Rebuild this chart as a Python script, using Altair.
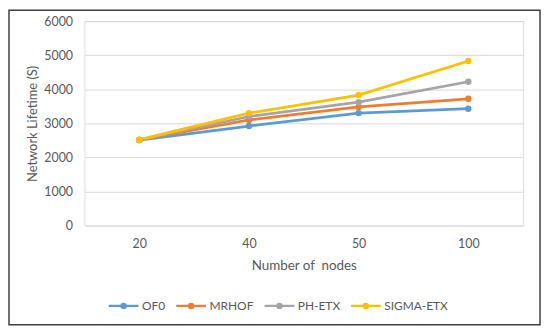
import altair as alt
import pandas as pd

nodes = ["20", "40", "50", "100"]
series = ["OF0", "MRHOF", "PH-ETX", "SIGMA-ETX"]
of0 = [2510, 2920, 3300, 3430]
mrhof = [2510, 3100, 3480, 3720]
phetx = [2510, 3200, 3620, 4220]
sigma = [2520, 3300, 3830, 4830]
colors = ["#5B9BD5", "#ED7D31", "#A5A5A5", "#FFC000"]

rows = []
for name, vals in zip(series, [of0, mrhof, phetx, sigma]):
    for n, v in zip(nodes, vals):
        rows.append({"nodes": n, "series": name, "value": v})
df = pd.DataFrame(rows)

FONT = "Lato"
GREY = "#595959"

sym = "M-1,0H1M0.14,0A0.14,0.14,0,1,1,-0.14,0A0.14,0.14,0,1,1,0.14,0Z"

base = alt.Chart(df).encode(
    x=alt.X("nodes:O", sort=nodes,
            scale=alt.Scale(type="point", padding=0.5),
            axis=alt.Axis(title="Number of\u00a0 nodes", labelAngle=0, domain=False, ticks=False,
                          grid=False, labelPadding=12, titlePadding=9,
                          labelFontSize=12.5, titleFontSize=13.5, labelColor=GREY,
                          titleColor=GREY, titleFontWeight="normal", labelFont=FONT, titleFont=FONT)),
    y=alt.Y("value:Q", scale=alt.Scale(domain=[0, 6000]),
            axis=alt.Axis(title="Network Lifetime (S)", values=[0, 1000, 2000, 3000, 4000, 5000, 6000],
                          format="d",
                          domain=False, ticks=False, grid=True, gridColor="#D9D9D9", gridWidth=1,
                          labelPadding=12, titlePadding=4, labelFontSize=12.5, titleFontSize=13,
                          labelColor=GREY, titleColor=GREY, titleFontWeight="normal",
                          labelFont=FONT, titleFont=FONT)),
    color=alt.Color("series:N", sort=series,
                    scale=alt.Scale(domain=series, range=colors),
                    legend=alt.Legend(title=None, orient="none", direction="horizontal",
                                      legendX=23, legendY=270, symbolType=sym, symbolSize=900,
                                      symbolStrokeWidth=2.25, labelOffset=2, columnPadding=6,
                                      labelFontSize=12, labelFont=FONT, labelColor=GREY,
                                      symbolFillColor=None)),
    order=alt.Order("series:N"),
)

lines = base.mark_line(strokeWidth=2.75, point=alt.OverlayMarkDef(size=42, filled=True, opacity=1))

frame = alt.Chart(pd.DataFrame({"f": [0]})).mark_rect(
    filled=False, stroke="#404040", strokeWidth=1.5
).encode(x=alt.value(-76), x2=alt.value(459), y=alt.value(-11), y2=alt.value(306))

chart = alt.layer(frame, lines).properties(
    width=442, height=206,
    autosize=alt.AutoSizeParams(type="none"),
    padding={"left": 77, "top": 12, "right": 19, "bottom": 102},
).configure_view(stroke=None).configure(background="white")

chart.save("out.html", embed_options={"renderer": "svg", "actions": False})
